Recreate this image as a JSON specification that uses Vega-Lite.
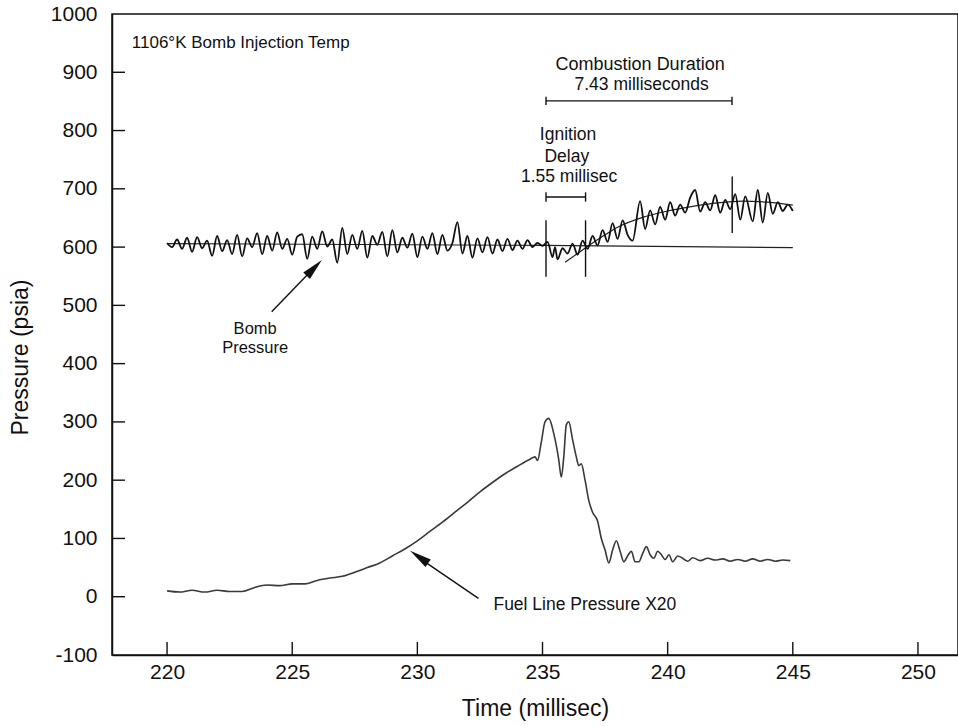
{
  "$schema": "https://vega.github.io/schema/vega-lite/v6.json",
  "width": 846,
  "height": 641,
  "autosize": "none",
  "padding": {"left": 112, "top": 14, "right": 0, "bottom": 71},
  "background": "white",
  "config": {
    "view": {"stroke": "#111", "strokeWidth": 1.5},
    "font": "Liberation Sans",
    "text": {"font": "Liberation Sans", "color": "#111"}
  },
  "datasets": {
    "flat": [
      {"t": 220.0, "p": 606},
      {"t": 235.0, "p": 603},
      {"t": 245.0, "p": 599}
    ],
    "fit": [
      {"t": 235.9, "p": 574},
      {"t": 236.5, "p": 592},
      {"t": 237.0, "p": 607},
      {"t": 237.5, "p": 621},
      {"t": 238.0, "p": 634},
      {"t": 239.0, "p": 651},
      {"t": 240.0, "p": 662},
      {"t": 241.0, "p": 670},
      {"t": 242.0, "p": 676},
      {"t": 243.0, "p": 679},
      {"t": 244.0, "p": 677},
      {"t": 245.0, "p": 672}
    ],
    "bomb": [
      {"t": 220.0, "p": 607}, {"t": 220.2, "p": 600}, {"t": 220.4, "p": 613}, {"t": 220.6, "p": 597},
      {"t": 220.8, "p": 616}, {"t": 221.0, "p": 592}, {"t": 221.2, "p": 617}, {"t": 221.4, "p": 598},
      {"t": 221.6, "p": 611}, {"t": 221.8, "p": 585}, {"t": 222.0, "p": 619}, {"t": 222.2, "p": 593},
      {"t": 222.4, "p": 612}, {"t": 222.6, "p": 588}, {"t": 222.8, "p": 621}, {"t": 223.0, "p": 584},
      {"t": 223.2, "p": 615}, {"t": 223.4, "p": 600}, {"t": 223.6, "p": 624}, {"t": 223.8, "p": 588},
      {"t": 224.0, "p": 619}, {"t": 224.2, "p": 594}, {"t": 224.4, "p": 625}, {"t": 224.6, "p": 597},
      {"t": 224.8, "p": 614}, {"t": 225.0, "p": 587}, {"t": 225.2, "p": 618}, {"t": 225.4, "p": 622},
      {"t": 225.6, "p": 580}, {"t": 225.8, "p": 618}, {"t": 226.0, "p": 597}, {"t": 226.2, "p": 627},
      {"t": 226.4, "p": 601}, {"t": 226.6, "p": 613}, {"t": 226.8, "p": 573}, {"t": 227.0, "p": 633},
      {"t": 227.2, "p": 588}, {"t": 227.4, "p": 621}, {"t": 227.6, "p": 597}, {"t": 227.8, "p": 628},
      {"t": 228.0, "p": 582}, {"t": 228.2, "p": 619}, {"t": 228.4, "p": 604}, {"t": 228.6, "p": 626},
      {"t": 228.8, "p": 584}, {"t": 229.0, "p": 629}, {"t": 229.2, "p": 591}, {"t": 229.4, "p": 616},
      {"t": 229.6, "p": 599}, {"t": 229.8, "p": 623}, {"t": 230.0, "p": 583}, {"t": 230.2, "p": 618},
      {"t": 230.4, "p": 597}, {"t": 230.6, "p": 624}, {"t": 230.8, "p": 588}, {"t": 231.0, "p": 621},
      {"t": 231.2, "p": 594}, {"t": 231.4, "p": 607}, {"t": 231.6, "p": 643}, {"t": 231.8, "p": 589},
      {"t": 232.0, "p": 619}, {"t": 232.2, "p": 582}, {"t": 232.4, "p": 615}, {"t": 232.6, "p": 591},
      {"t": 232.8, "p": 617}, {"t": 233.0, "p": 589}, {"t": 233.2, "p": 613}, {"t": 233.4, "p": 593},
      {"t": 233.6, "p": 614}, {"t": 233.8, "p": 595}, {"t": 234.0, "p": 611}, {"t": 234.2, "p": 597},
      {"t": 234.4, "p": 612}, {"t": 234.6, "p": 600}, {"t": 234.8, "p": 607}, {"t": 235.0, "p": 602},
      {"t": 235.2, "p": 609}, {"t": 235.4, "p": 583}, {"t": 235.5, "p": 600}, {"t": 235.6, "p": 579},
      {"t": 235.8, "p": 598}, {"t": 236.0, "p": 589}, {"t": 236.2, "p": 606}, {"t": 236.4, "p": 587},
      {"t": 236.6, "p": 611}, {"t": 236.8, "p": 597}, {"t": 237.0, "p": 619}, {"t": 237.2, "p": 603},
      {"t": 237.4, "p": 629}, {"t": 237.6, "p": 609}, {"t": 237.8, "p": 641}, {"t": 238.0, "p": 614},
      {"t": 238.2, "p": 646}, {"t": 238.4, "p": 621}, {"t": 238.6, "p": 611}, {"t": 238.9, "p": 679},
      {"t": 239.1, "p": 631}, {"t": 239.3, "p": 663}, {"t": 239.5, "p": 639}, {"t": 239.7, "p": 669},
      {"t": 239.9, "p": 647}, {"t": 240.1, "p": 677}, {"t": 240.3, "p": 654}, {"t": 240.5, "p": 673},
      {"t": 240.7, "p": 659}, {"t": 240.9, "p": 685}, {"t": 241.1, "p": 698}, {"t": 241.3, "p": 661},
      {"t": 241.5, "p": 677}, {"t": 241.7, "p": 663}, {"t": 241.9, "p": 689}, {"t": 242.1, "p": 659},
      {"t": 242.3, "p": 681}, {"t": 242.5, "p": 665}, {"t": 242.7, "p": 691}, {"t": 242.9, "p": 647},
      {"t": 243.1, "p": 687}, {"t": 243.4, "p": 644}, {"t": 243.6, "p": 698}, {"t": 243.8, "p": 642},
      {"t": 244.0, "p": 693}, {"t": 244.2, "p": 657}, {"t": 244.4, "p": 677}, {"t": 244.6, "p": 662},
      {"t": 244.8, "p": 673}, {"t": 245.0, "p": 662}
    ],
    "fuel": [
      {"t": 220.0, "p": 10}, {"t": 220.5, "p": 8}, {"t": 221.0, "p": 11}, {"t": 221.5, "p": 8},
      {"t": 222.0, "p": 11}, {"t": 222.5, "p": 9}, {"t": 223.0, "p": 9}, {"t": 223.5, "p": 16},
      {"t": 224.0, "p": 20}, {"t": 224.5, "p": 19}, {"t": 225.0, "p": 22}, {"t": 225.5, "p": 22},
      {"t": 226.0, "p": 28}, {"t": 226.5, "p": 32}, {"t": 227.0, "p": 35}, {"t": 227.5, "p": 42},
      {"t": 228.0, "p": 50}, {"t": 228.5, "p": 58}, {"t": 229.0, "p": 70}, {"t": 229.5, "p": 82},
      {"t": 230.0, "p": 96}, {"t": 230.5, "p": 112}, {"t": 231.0, "p": 128}, {"t": 231.5, "p": 145},
      {"t": 232.0, "p": 162}, {"t": 232.5, "p": 180}, {"t": 233.0, "p": 196}, {"t": 233.5, "p": 211},
      {"t": 234.0, "p": 224}, {"t": 234.5, "p": 236}, {"t": 234.7, "p": 240}, {"t": 234.8, "p": 234},
      {"t": 234.95, "p": 265}, {"t": 235.1, "p": 300}, {"t": 235.25, "p": 306}, {"t": 235.45, "p": 280},
      {"t": 235.65, "p": 235}, {"t": 235.75, "p": 205}, {"t": 235.85, "p": 240}, {"t": 235.95, "p": 295},
      {"t": 236.05, "p": 300}, {"t": 236.2, "p": 270}, {"t": 236.35, "p": 240}, {"t": 236.45, "p": 225},
      {"t": 236.55, "p": 228}, {"t": 236.7, "p": 200}, {"t": 236.85, "p": 165}, {"t": 237.0, "p": 145},
      {"t": 237.2, "p": 130}, {"t": 237.35, "p": 100}, {"t": 237.5, "p": 80}, {"t": 237.65, "p": 58},
      {"t": 237.8, "p": 80}, {"t": 237.95, "p": 96}, {"t": 238.1, "p": 78}, {"t": 238.25, "p": 60},
      {"t": 238.4, "p": 70}, {"t": 238.55, "p": 78}, {"t": 238.7, "p": 60}, {"t": 238.85, "p": 60},
      {"t": 239.0, "p": 74}, {"t": 239.15, "p": 86}, {"t": 239.3, "p": 72}, {"t": 239.45, "p": 66},
      {"t": 239.6, "p": 78}, {"t": 239.75, "p": 72}, {"t": 239.9, "p": 64}, {"t": 240.05, "p": 72},
      {"t": 240.2, "p": 60}, {"t": 240.4, "p": 70}, {"t": 240.6, "p": 66}, {"t": 240.8, "p": 61},
      {"t": 241.0, "p": 67}, {"t": 241.3, "p": 62}, {"t": 241.6, "p": 66}, {"t": 241.9, "p": 63},
      {"t": 242.2, "p": 65}, {"t": 242.5, "p": 61}, {"t": 242.8, "p": 64}, {"t": 243.1, "p": 61},
      {"t": 243.4, "p": 65}, {"t": 243.7, "p": 61}, {"t": 244.0, "p": 64}, {"t": 244.3, "p": 61},
      {"t": 244.6, "p": 63}, {"t": 244.9, "p": 62}
    ],
    "rules": [
      {"t": 235.14, "t2": 242.57, "p": 851, "p2": 851},
      {"t": 235.14, "t2": 235.14, "p": 844, "p2": 858},
      {"t": 242.57, "t2": 242.57, "p": 844, "p2": 858},
      {"t": 235.14, "t2": 236.72, "p": 686, "p2": 686},
      {"t": 235.14, "t2": 235.14, "p": 678, "p2": 694},
      {"t": 236.72, "t2": 236.72, "p": 678, "p2": 694},
      {"t": 235.14, "t2": 235.14, "p": 549, "p2": 646},
      {"t": 236.72, "t2": 236.72, "p": 549, "p2": 646},
      {"t": 242.58, "t2": 242.58, "p": 624, "p2": 721},
      {"t": 224.18, "t2": 226.0, "p": 489, "p2": 570},
      {"t": 232.44, "t2": 229.95, "p": -2.7, "p2": 70}
    ],
    "heads": [
      {"t": 225.88, "p": 564.3, "ang": 44},
      {"t": 230.07, "p": 68.2, "ang": 305}
    ],
    "xticks": [
      {"t": 220, "p": -100}, {"t": 225, "p": -100}, {"t": 230, "p": -100}, {"t": 235, "p": -100},
      {"t": 240, "p": -100}, {"t": 245, "p": -100}, {"t": 250, "p": -100}
    ],
    "yticks": [
      {"t": 217.8, "p": 0}, {"t": 217.8, "p": 100}, {"t": 217.8, "p": 200}, {"t": 217.8, "p": 300},
      {"t": 217.8, "p": 400}, {"t": 217.8, "p": 500}, {"t": 217.8, "p": 600}, {"t": 217.8, "p": 700},
      {"t": 217.8, "p": 800}, {"t": 217.8, "p": 900}
    ],
    "labelsLeft": [
      {"t": 218.59, "p": 950.5, "label": "1106°K Bomb Injection Temp", "size": 17},
      {"t": 233.04, "p": -14.2, "label": "Fuel Line Pressure X20", "size": 17.5}
    ],
    "labelsCenter": [
      {"t": 238.9, "p": 912.5, "label": "Combustion Duration", "size": 18},
      {"t": 238.96, "p": 878, "label": "7.43 milliseconds", "size": 17.5},
      {"t": 236.02, "p": 792.4, "label": "Ignition", "size": 17.5},
      {"t": 235.97, "p": 755, "label": "Delay", "size": 17.5},
      {"t": 236.06, "p": 721, "label": "1.55 millisec", "size": 17.5},
      {"t": 223.52, "p": 459.5, "label": "Bomb", "size": 16.5},
      {"t": 223.52, "p": 426.9, "label": "Pressure", "size": 16.5}
    ]
  },
  "encoding": {
    "x": {
      "field": "t",
      "type": "quantitative",
      "scale": {"domain": [217.8, 251.6], "nice": false, "zero": false},
      "axis": {
        "title": "Time (millisec)",
        "values": [220, 225, 230, 235, 240, 245, 250],
        "labelExpr": "datum.value + ''",
        "grid": false,
        "ticks": false,
        "domainColor": "#111",
        "domainWidth": 1.5,
        "labelPadding": 6,
        "labelFontSize": 21,
        "labelColor": "#111",
        "labelFont": "Liberation Sans",
        "labelFlush": false,
        "titleFont": "Liberation Sans",
        "titleFontSize": 23,
        "titleFontWeight": "normal",
        "titleColor": "#111",
        "titleBaseline": "middle",
        "titleY": 53
      }
    },
    "y": {
      "field": "p",
      "type": "quantitative",
      "scale": {"domain": [-100, 1000], "nice": false, "zero": false},
      "axis": {
        "title": "Pressure (psia)",
        "values": [-100, 0, 100, 200, 300, 400, 500, 600, 700, 800, 900, 1000],
        "labelExpr": "datum.value + ''",
        "grid": false,
        "ticks": false,
        "domainColor": "#111",
        "domainWidth": 1.5,
        "labelPadding": 15,
        "labelFontSize": 21,
        "labelColor": "#111",
        "labelFont": "Liberation Sans",
        "labelFlush": false,
        "titleFont": "Liberation Sans",
        "titleFontSize": 23,
        "titleFontWeight": "normal",
        "titleColor": "#111",
        "titleAngle": -90,
        "titleAlign": "center",
        "titleBaseline": "middle",
        "titleX": -92,
        "titleY": 343
      }
    }
  },
  "layer": [
    {
      "data": {"name": "xticks"},
      "mark": {"type": "tick", "orient": "vertical", "size": 13, "thickness": 1.4, "color": "#111", "opacity": 1, "yOffset": -6.5}
    },
    {
      "data": {"name": "yticks"},
      "mark": {"type": "tick", "orient": "horizontal", "size": 13, "thickness": 1.4, "color": "#111", "opacity": 1, "xOffset": 6.5}
    },
    {
      "data": {"name": "flat"},
      "mark": {"type": "line", "color": "#222", "strokeWidth": 1.1}
    },
    {
      "data": {"name": "fit"},
      "mark": {"type": "line", "color": "#222", "strokeWidth": 1.2, "interpolate": "monotone"}
    },
    {
      "data": {"name": "bomb"},
      "mark": {"type": "line", "color": "#111", "strokeWidth": 1.8, "interpolate": "monotone"}
    },
    {
      "data": {"name": "fuel"},
      "mark": {"type": "line", "color": "#3a3a3a", "strokeWidth": 1.6, "interpolate": "monotone"}
    },
    {
      "data": {"name": "rules"},
      "mark": {"type": "rule", "color": "#111", "strokeWidth": 1.4},
      "encoding": {
        "x2": {"field": "t2"},
        "y2": {"field": "p2"}
      }
    },
    {
      "data": {"name": "heads"},
      "mark": {"type": "point", "shape": "M0,-1L0.42,1L-0.42,1Z", "filled": true, "color": "#111", "opacity": 1, "size": 484},
      "encoding": {
        "angle": {"field": "ang", "type": "quantitative", "scale": null}
      }
    },
    {
      "data": {"name": "labelsLeft"},
      "mark": {"type": "text", "align": "left", "baseline": "middle", "color": "#111"},
      "encoding": {
        "text": {"field": "label"},
        "size": {"field": "size", "type": "quantitative", "scale": null, "legend": null}
      }
    },
    {
      "data": {"name": "labelsCenter"},
      "mark": {"type": "text", "align": "center", "baseline": "middle", "color": "#111"},
      "encoding": {
        "text": {"field": "label"},
        "size": {"field": "size", "type": "quantitative", "scale": null, "legend": null}
      }
    }
  ]
}
